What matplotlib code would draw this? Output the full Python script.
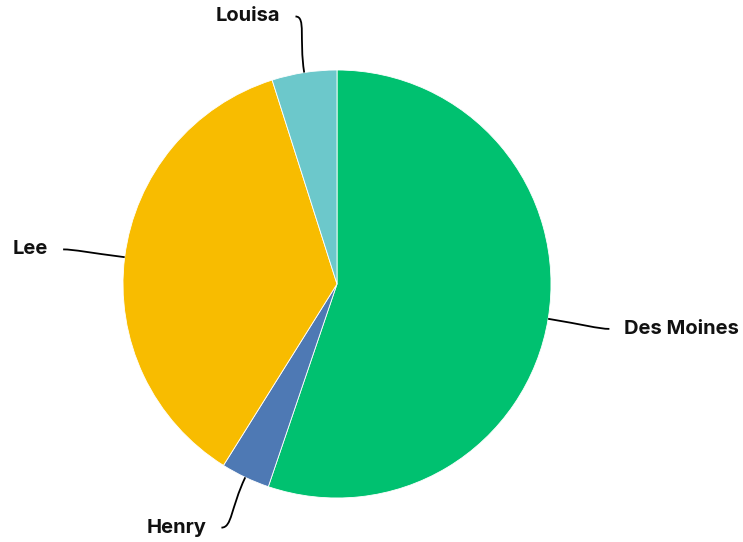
import numpy as np
import matplotlib.pyplot as plt
from matplotlib.path import Path
from matplotlib.patches import PathPatch

# data (share in %)
counties = ["Des Moines", "Henry", "Lee", "Louisa"]
shares = [55.2, 3.7, 36.2, 4.9]
colors = ["#00C170", "#4E79B4", "#F8BC00", "#6CC8CB"]

plt.rcParams["font.family"] = ["Inter", "DejaVu Sans"]

fig = plt.figure(figsize=(7.43, 5.42), dpi=100)
ax = fig.add_axes([0, 0, 1, 1])

wedges, _ = ax.pie(shares, colors=colors, startangle=90, counterclock=False,
                   radius=1.0, wedgeprops=dict(edgecolor="white", linewidth=0.6))

# pixel layout: pie centre at (337, 284) px from top-left, radius 214 px
px = 214.0
ax.set_xlim(-337 / px, (743 - 337) / px)
ax.set_ylim(-(542 - 284) / px, 284 / px)
ax.set_aspect("equal")
ax.axis("off")

# leader line length per label (in pie radii)
reach = {"Des Moines": 1.29, "Henry": 1.26, "Lee": 1.29, "Louisa": 1.265}

for w, name in zip(wedges, counties):
    mid = np.deg2rad((w.theta1 + w.theta2) / 2.0)
    ux, uy = np.cos(mid), np.sin(mid)
    p0 = (ux * 1.0, uy * 1.0)
    p1 = (ux * 1.16, uy * 1.16)
    end = (ux * reach[name], uy * reach[name])
    side = 1 if ux > 0 else -1
    p2 = (end[0] - side * 0.05, end[1])
    path = Path([p0, p1, p2, end],
                [Path.MOVETO, Path.CURVE4, Path.CURVE4, Path.CURVE4])
    ax.add_patch(PathPatch(path, facecolor="none", edgecolor="black", lw=1.3,
                           clip_on=False))
    ax.text(end[0] + side * 0.07, end[1], name,
            ha="left" if side > 0 else "right", va="center",
            fontsize=14.5, fontweight="bold", color="#111111")

fig.savefig("out.png", dpi=100)
